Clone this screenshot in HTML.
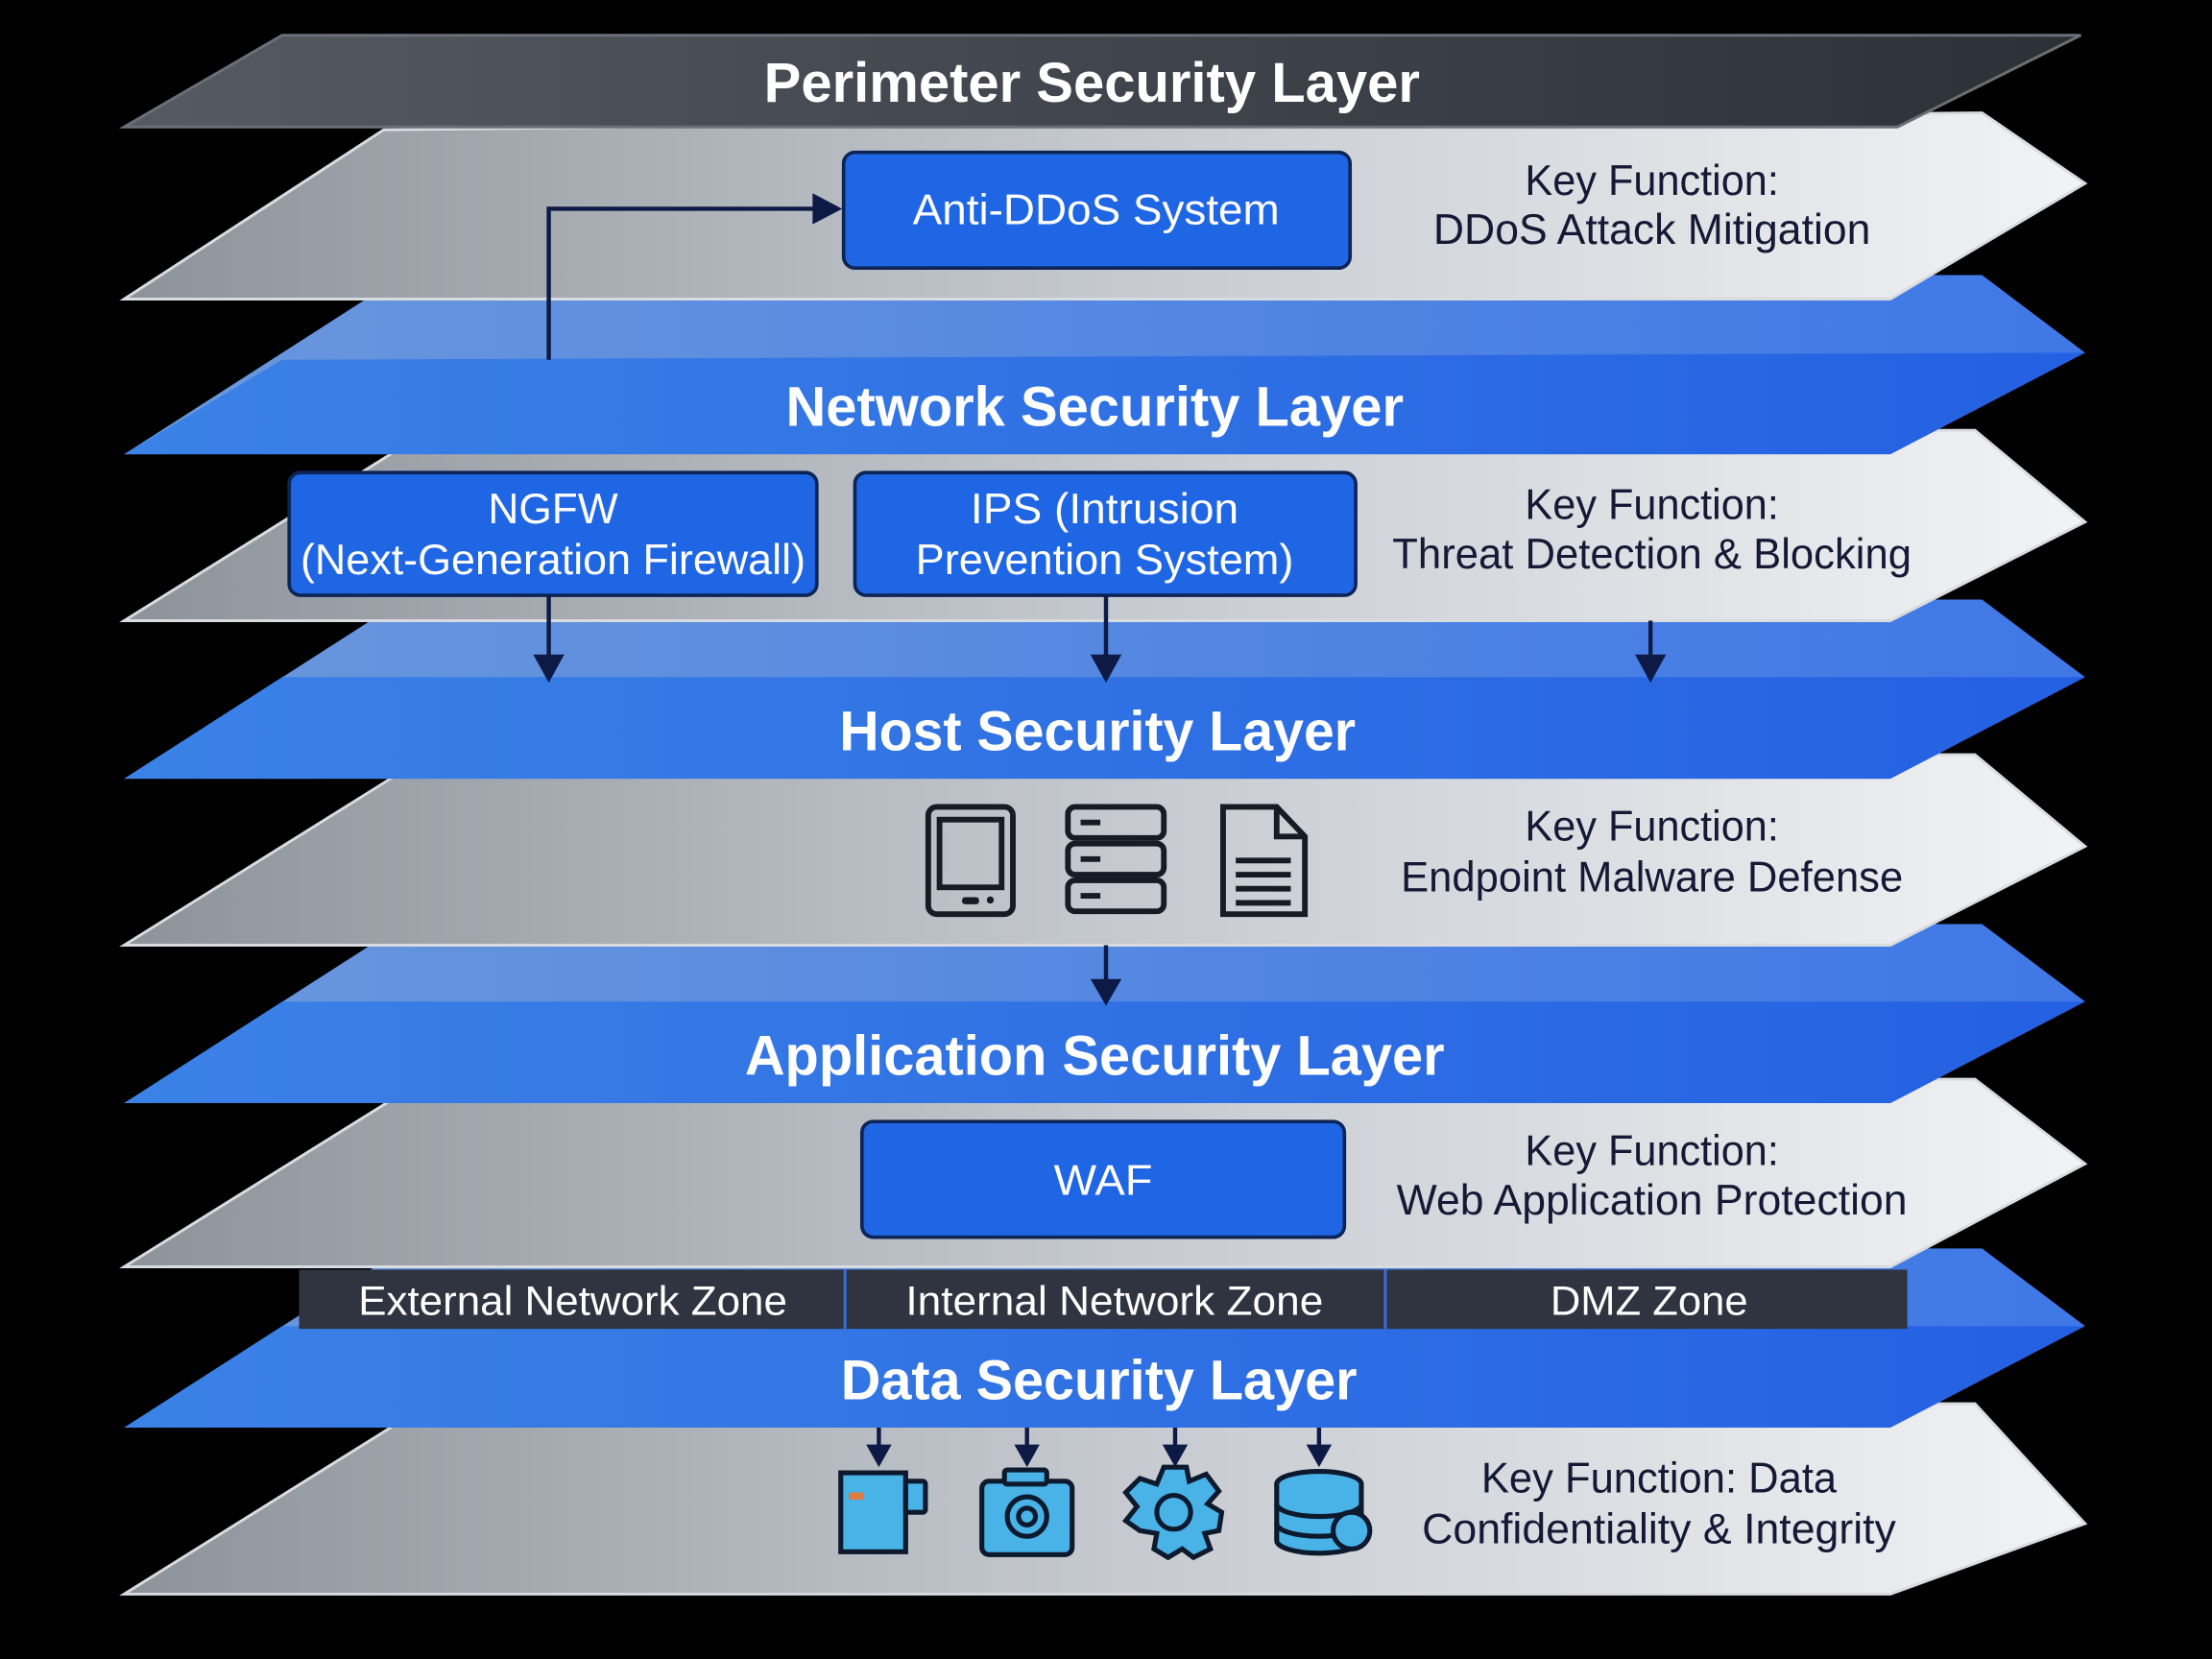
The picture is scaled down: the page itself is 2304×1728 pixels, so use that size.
<!DOCTYPE html>
<html><head><meta charset="utf-8"><style>html,body{margin:0;padding:0;background:#000;}svg{display:block}</style></head>
<body>
<svg width="2304" height="1728" viewBox="0 0 1568 1176" xmlns="http://www.w3.org/2000/svg">
<defs>
<linearGradient id="gray" x1="0" y1="0" x2="1" y2="0"><stop offset="0" stop-color="#8d939b"/><stop offset="0.5" stop-color="#c5c9cf"/><stop offset="1" stop-color="#f2f3f5"/></linearGradient>
<linearGradient id="blueL" x1="0" y1="0" x2="1" y2="0"><stop offset="0" stop-color="#6b98dc"/><stop offset="1" stop-color="#3f78e6"/></linearGradient>
<linearGradient id="blueD" x1="0" y1="0" x2="1" y2="0"><stop offset="0" stop-color="#3b82e6"/><stop offset="1" stop-color="#2460e2"/></linearGradient>
<linearGradient id="dark" x1="0" y1="0" x2="1" y2="0"><stop offset="0" stop-color="#555a63"/><stop offset="1" stop-color="#2c3038"/></linearGradient>
</defs>
<rect width="1568" height="1176" fill="#000"/>

<!-- bottom to top -->
<!-- G5 -->
<polygon points="304,995 1400,995 1478,1080 1340,1130 88,1130" fill="url(#gray)" stroke="#d8dbe0" stroke-width="2"/>
<!-- B4 -->
<polygon points="286,885 1405,885 1478,940 1340,1012 88,1012" fill="url(#blueL)"/>
<polygon points="200,940 1478,940 1340,1012 88,1012" fill="url(#blueD)"/>
<!-- G4 -->
<polygon points="301,765 1400,765 1478,825 1340,898 88,898" fill="url(#gray)" stroke="#d8dbe0" stroke-width="2"/>
<!-- B3 -->
<polygon points="286,655 1405,655 1478,710 1340,782 88,782" fill="url(#blueL)"/>
<polygon points="200,710 1478,710 1340,782 88,782" fill="url(#blueD)"/>
<!-- G3 -->
<polygon points="304,535 1400,535 1478,600 1340,670 88,670" fill="url(#gray)" stroke="#d8dbe0" stroke-width="2"/>
<!-- B2 -->
<polygon points="286,425 1405,425 1478,480 1340,552 88,552" fill="url(#blueL)"/>
<polygon points="200,480 1478,480 1340,552 88,552" fill="url(#blueD)"/>
<!-- G2 -->
<polygon points="304,305 1400,305 1478,370 1340,440 88,440" fill="url(#gray)" stroke="#d8dbe0" stroke-width="2"/>
<!-- B1 -->
<polygon points="286,195 1405,195 1478,250 1340,322 88,322" fill="url(#blueL)"/>
<polygon points="200,255 1478,250 1340,322 88,322" fill="url(#blueD)"/>
<!-- G1 -->
<polygon points="272,92 1405,80 1478,130 1340,212 88,212" fill="url(#gray)" stroke="#d8dbe0" stroke-width="2"/>
<!-- dark perimeter band -->
<polygon points="200,25 1475,25 1345,90 88,90" fill="url(#dark)" stroke="#6a6f78" stroke-width="2"/>

<g font-family="Liberation Sans, sans-serif" font-weight="bold" fill="#fff" font-size="40" text-anchor="middle">
<text x="774" y="72" textLength="465" lengthAdjust="spacingAndGlyphs">Perimeter Security Layer</text>
<text x="776" y="302" textLength="438" lengthAdjust="spacingAndGlyphs">Network Security Layer</text>
<text x="778" y="532" textLength="366" lengthAdjust="spacingAndGlyphs">Host Security Layer</text>
<text x="776" y="762" textLength="496" lengthAdjust="spacingAndGlyphs">Application Security Layer</text>
<text x="779" y="992" textLength="366" lengthAdjust="spacingAndGlyphs">Data Security Layer</text>
</g>

<!-- boxes -->
<g fill="#1f66e5" stroke="#0d2456" stroke-width="2.5">
<rect x="598" y="108" width="359" height="82" rx="8"/>
<rect x="205" y="335" width="374" height="87" rx="8"/>
<rect x="606" y="335" width="355" height="87" rx="8"/>
<rect x="611" y="795" width="342" height="82" rx="8"/>
</g>
<g font-family="Liberation Sans, sans-serif" fill="#fff" font-size="30" text-anchor="middle">
<text x="777" y="159" textLength="260" lengthAdjust="spacingAndGlyphs">Anti-DDoS System</text>
<text x="392" y="371" textLength="92" lengthAdjust="spacingAndGlyphs">NGFW</text>
<text x="392" y="407" textLength="358" lengthAdjust="spacingAndGlyphs">(Next-Generation Firewall)</text>
<text x="783" y="371" textLength="190" lengthAdjust="spacingAndGlyphs">IPS (Intrusion</text>
<text x="783" y="407" textLength="268" lengthAdjust="spacingAndGlyphs">Prevention System)</text>
<text x="782" y="847" textLength="70" lengthAdjust="spacingAndGlyphs">WAF</text>
</g>

<!-- key functions -->
<g font-family="Liberation Sans, sans-serif" fill="#141a35" font-size="30" text-anchor="middle">
<text x="1171" y="138" textLength="180" lengthAdjust="spacingAndGlyphs">Key Function:</text>
<text x="1171" y="173" textLength="310" lengthAdjust="spacingAndGlyphs">DDoS Attack Mitigation</text>
<text x="1171" y="368" textLength="180" lengthAdjust="spacingAndGlyphs">Key Function:</text>
<text x="1171" y="403" textLength="368" lengthAdjust="spacingAndGlyphs">Threat Detection &amp; Blocking</text>
<text x="1171" y="596" textLength="180" lengthAdjust="spacingAndGlyphs">Key Function:</text>
<text x="1171" y="632" textLength="356" lengthAdjust="spacingAndGlyphs">Endpoint Malware Defense</text>
<text x="1171" y="826" textLength="180" lengthAdjust="spacingAndGlyphs">Key Function:</text>
<text x="1171" y="861" textLength="362" lengthAdjust="spacingAndGlyphs">Web Application Protection</text>
<text x="1176" y="1058" textLength="252" lengthAdjust="spacingAndGlyphs">Key Function: Data</text>
<text x="1176" y="1094" textLength="336" lengthAdjust="spacingAndGlyphs">Confidentiality &amp; Integrity</text>
</g>

<!-- zones bar -->
<rect x="212" y="900" width="1140" height="42" fill="#2f3440"/>
<line x1="599" y1="900" x2="599" y2="942" stroke="#3b6fd8" stroke-width="2"/>
<line x1="982" y1="900" x2="982" y2="942" stroke="#3b6fd8" stroke-width="2"/>
<g font-family="Liberation Sans, sans-serif" fill="#fff" font-size="29" text-anchor="middle">
<text x="406" y="932" textLength="304" lengthAdjust="spacingAndGlyphs">External Network Zone</text>
<text x="790" y="932" textLength="296" lengthAdjust="spacingAndGlyphs">Internal Network Zone</text>
<text x="1169" y="932" textLength="140" lengthAdjust="spacingAndGlyphs">DMZ Zone</text>
</g>

<!-- arrows -->
<g stroke="#0d1a45" stroke-width="3" fill="none">
<polyline points="389,255 389,148 580,148"/>
<line x1="389" y1="422" x2="389" y2="468"/>
<line x1="784" y1="422" x2="784" y2="468"/>
<line x1="1170" y1="440" x2="1170" y2="468"/>
<line x1="784" y1="670" x2="784" y2="698"/>
<line x1="623" y1="1012" x2="623" y2="1028"/>
<line x1="728" y1="1012" x2="728" y2="1028"/>
<line x1="833" y1="1012" x2="833" y2="1028"/>
<line x1="935" y1="1012" x2="935" y2="1028"/>
</g>
<g fill="#0d1a45">
<polygon points="597,148 576,137 576,159"/>
<polygon points="389,484 378,464 400,464"/>
<polygon points="784,484 773,464 795,464"/>
<polygon points="1170,484 1159,464 1181,464"/>
<polygon points="784,713 773,694 795,694"/>
<polygon points="623,1040 614,1024 632,1024"/>
<polygon points="728,1040 719,1024 737,1024"/>
<polygon points="833,1040 824,1024 842,1024"/>
<polygon points="935,1040 926,1024 944,1024"/>
</g>

<!-- host icons -->
<g stroke="#161b26" stroke-width="4" fill="none">
<rect x="658" y="572" width="60" height="76" rx="6"/>
<rect x="666" y="581" width="44" height="48"/>
<rect x="757" y="572" width="68" height="22" rx="5"/>
<rect x="757" y="598" width="68" height="22" rx="5"/>
<rect x="757" y="624" width="68" height="22" rx="5"/>
<line x1="766" y1="583" x2="780" y2="583"/>
<line x1="766" y1="609" x2="780" y2="609"/>
<line x1="766" y1="635" x2="780" y2="635"/>
<path d="M867,572 L905,572 L925,593 L925,648 L867,648 Z"/>
<path d="M905,572 L905,593 L925,593"/>
<line x1="876" y1="610" x2="915" y2="610"/>
<line x1="876" y1="620" x2="915" y2="620"/>
<line x1="876" y1="630" x2="915" y2="630"/>
<line x1="876" y1="640" x2="915" y2="640"/>
</g>
<g fill="#161b26"><rect x="682" y="636" width="12" height="5" rx="2"/><circle cx="702" cy="638" r="2.5"/></g>

<!-- data icons -->
<g stroke="#0d1a2e" stroke-width="3.5" fill="#49b3e8">
<path d="M596,1044 L642,1044 L642,1100 L596,1100 Z"/>
<rect x="642" y="1050" width="14" height="22" rx="2"/>
<rect x="696" y="1050" width="64" height="52" rx="5"/>
<rect x="712" y="1042" width="30" height="10" rx="2"/>
<circle cx="728" cy="1075" r="14"/>
<circle cx="728" cy="1075" r="6"/>
<path d="M825,1040 L841,1040 L843,1050 L855,1045 L864,1057 L856,1066 L866,1072 L864,1085 L854,1087 L858,1098 L846,1104 L838,1098 L828,1104 L818,1098 L820,1087 L808,1085 L798,1078 L806,1068 L798,1058 L808,1048 L820,1052 Z"/>
<circle cx="832" cy="1072" r="12"/>
<ellipse cx="935" cy="1052" rx="30" ry="9"/>
<path d="M905,1052 L905,1092 A30,9 0 0 0 965,1092 L965,1052"/>
<path d="M905,1066 A30,9 0 0 0 965,1066"/>
<path d="M905,1080 A30,9 0 0 0 965,1080"/>
<circle cx="958" cy="1085" r="13"/>
</g>
<rect x="602" y="1058" width="10" height="5" fill="#e07a3a"/>
</svg>
</body></html>
